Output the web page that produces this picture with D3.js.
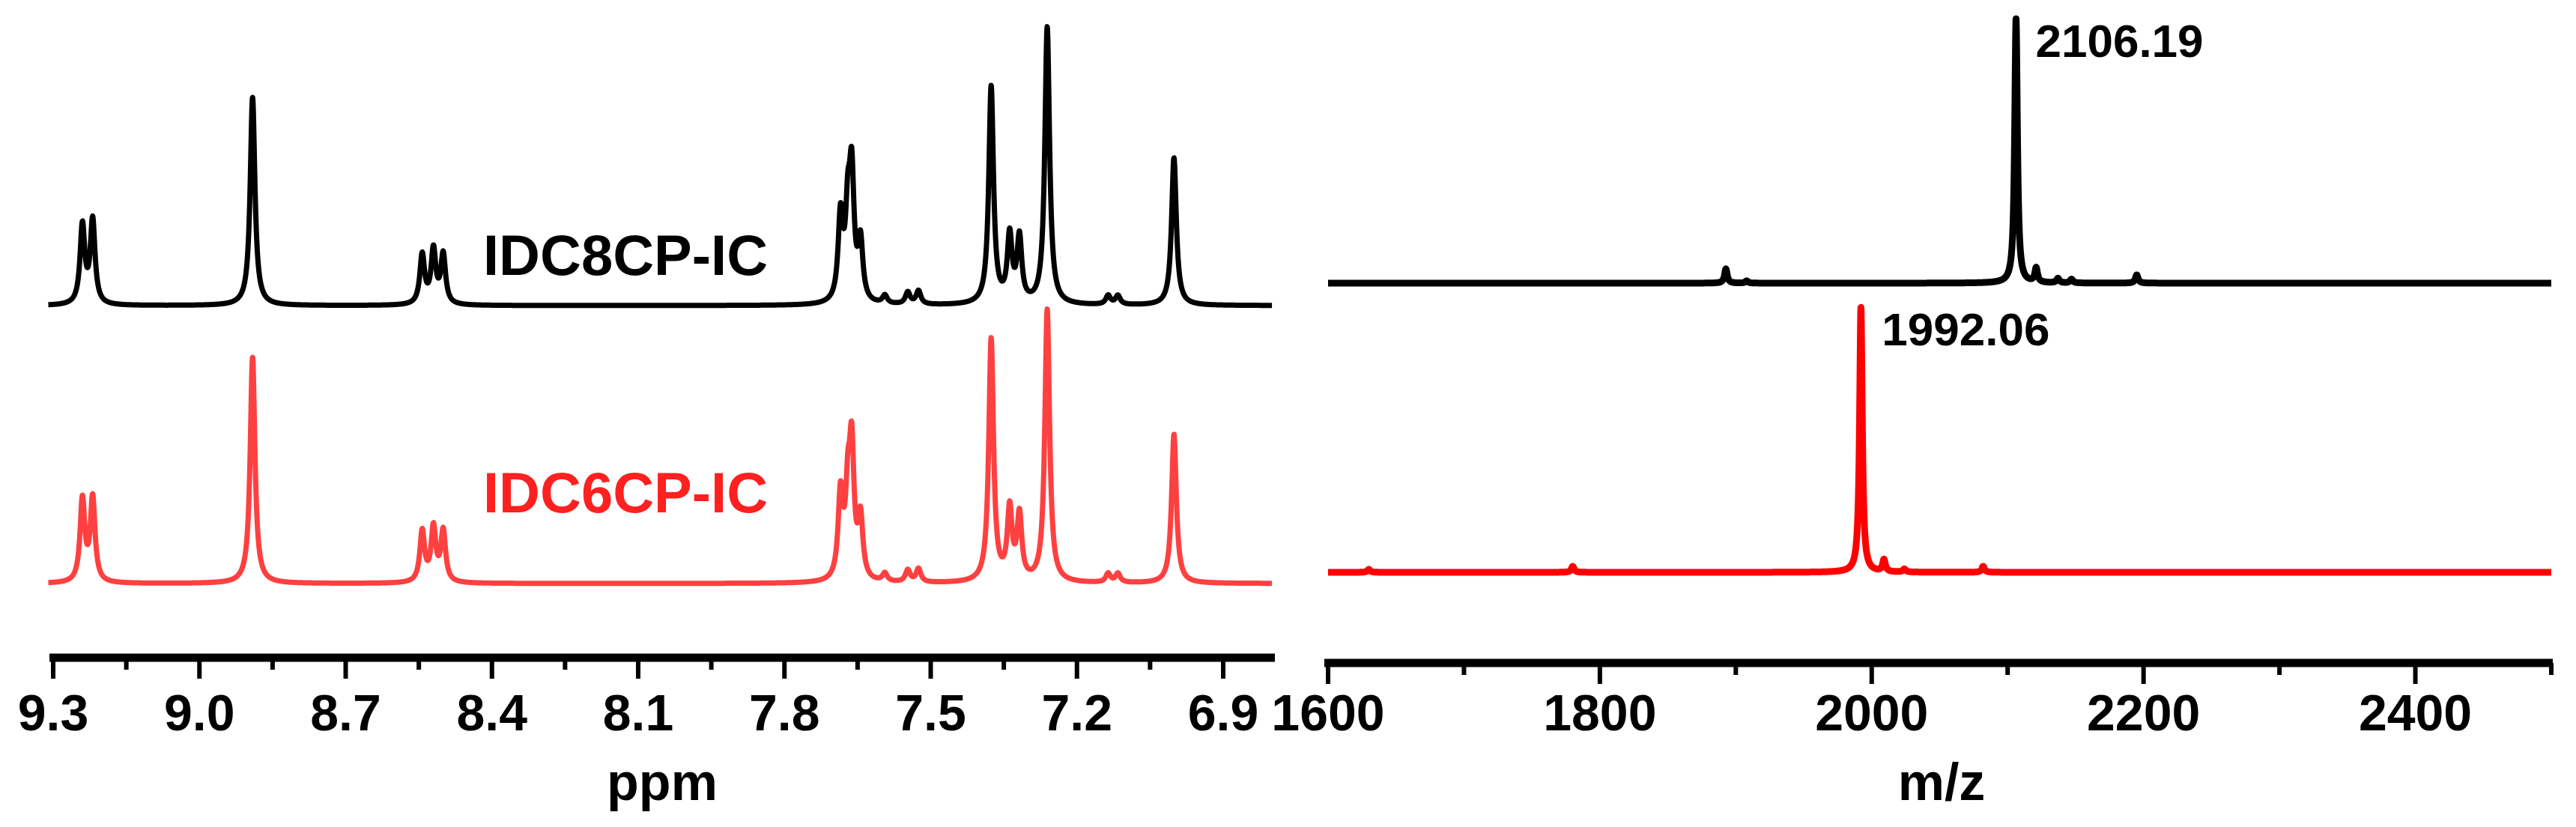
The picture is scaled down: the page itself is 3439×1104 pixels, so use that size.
<!DOCTYPE html>
<html><head><meta charset="utf-8">
<script src="https://cdn.jsdelivr.net/npm/d3@7"></script>
<style>body{margin:0;background:#fff}svg{display:block}</style>
</head><body>
<svg id="c" width="3439" height="1104"></svg>
<script>
// NMR peaks: [ppm, intensity]
const nmrTicks = [9.3, 9.0, 8.7, 8.4, 8.1, 7.8, 7.5, 7.2, 6.9];
const nmrBlackPeaks = [[9.240,105],[9.219,112],[8.891,278],[8.543,66],[8.520,72],[8.500,66],
  [7.685,112],[7.670,105],[7.662,160],[7.644,78],[7.594,11],[7.547,16],[7.525,18],
  [7.376,290],[7.338,88],[7.318,86],[7.261,370],[7.136,12],[7.116,12],[7.001,197]];
const nmrRedPeaks = [[9.240,110],[9.219,112],[8.891,302],[8.543,68],[8.520,72],[8.500,68],
  [7.685,112],[7.670,100],[7.662,166],[7.644,80],[7.594,11],[7.547,16],[7.525,18],
  [7.376,324],[7.338,94],[7.318,86],[7.261,364],[7.136,12],[7.116,12],[7.001,199]];
const msTicks = [1600, 1800, 2000, 2200, 2400];
const msBlackPeaks = [[1892.7,19],[1908,3],[2106.19,353],[2121,19],[2137,6],[2147,5],[2195,11]];
const msRedPeaks = [[1630,4],[1780,8],[1992.06,354],[2009,16],[2024,4],[2082,8]];
const labels = {nmrBlack:"IDC8CP-IC", nmrRed:"IDC6CP-IC", msBlack:"2106.19", msRed:"1992.06"};

const svg = d3.select("#c");
const narrow = "'Liberation Sans Narrow','Arial Narrow',sans-serif";
const bold = "'Liberation Sans',Arial,sans-serif";

const xN = d3.scaleLinear().domain([9.3, 6.9]).range([71, 1633]);
const xM = d3.scaleLinear().domain([1600, 2500]).range([1773, 3406]);
const yInt = d3.scaleLinear().domain([0, 400]).range([0, 400]);

function spectrum(peaks, dom, n, gamma) {
  const pts = [];
  const [a, b] = dom;
  for (let i = 0; i <= n; i++) {
    const x = a + (b - a) * i / n;
    let y = 0;
    for (const [p, h] of peaks) { const d = (x - p) / gamma; y += h / (1 + d * d); }
    pts.push([x, y]);
  }
  return pts;
}
function drawSpec(x, peaks, dom, n, gamma, base, color, w) {
  const data = spectrum(peaks, dom, n, gamma);
  const line = d3.line().x(d => x(d[0])).y(d => base - yInt(d[1]));
  svg.append("path").attr("d", line(data)).attr("fill", "none")
    .attr("stroke", color).attr("stroke-width", w).attr("stroke-linejoin", "round");
}
drawSpec(xN, nmrBlackPeaks, [9.31, 6.80], 6000, 0.0058, 408, "#000", 7);
drawSpec(xN, nmrRedPeaks, [9.31, 6.80], 6000, 0.0058, 779, "#ff4040", 7);
drawSpec(xM, msBlackPeaks, [1600, 2500], 9000, 1.2, 378, "#000", 9);
drawSpec(xM, msRedPeaks, [1600, 2500], 9000, 1.2, 764, "#ff0000", 9);

svg.append("text").attr("x", 645).attr("y", 367).attr("font-family", bold).attr("font-weight", "bold")
  .attr("font-size", 76).attr("fill", "#000").text(labels.nmrBlack);
svg.append("text").attr("x", 645).attr("y", 684).attr("font-family", bold).attr("font-weight", "bold")
  .attr("font-size", 76).attr("fill", "#ff2020").text(labels.nmrRed);
svg.append("text").attr("x", xM(2106.19) + 26).attr("y", 76).attr("font-family", bold).attr("font-weight", "bold")
  .attr("font-size", 62).attr("fill", "#000").text(labels.msBlack);
svg.append("text").attr("x", xM(1992.06) + 28).attr("y", 461).attr("font-family", bold).attr("font-weight", "bold")
  .attr("font-size", 62).attr("fill", "#000").text(labels.msRed);

function axis(x, ticks, y0, x0, x1, fmt, minorVals, title, tx, ty) {
  const g = svg.append("g");
  g.append("line").attr("x1", x0).attr("x2", x1).attr("y1", y0).attr("y2", y0)
    .attr("stroke", "#000").attr("stroke-width", 11);
  g.selectAll(".mj").data(ticks).join("line").attr("x1", d => x(d)).attr("x2", d => x(d))
    .attr("y1", y0).attr("y2", y0 + 28).attr("stroke", "#000").attr("stroke-width", 6);
  g.selectAll(".mn").data(minorVals).join("line").attr("x1", d => x(d)).attr("x2", d => x(d))
    .attr("y1", y0).attr("y2", y0 + 16).attr("stroke", "#000").attr("stroke-width", 6);
  g.selectAll(".tl").data(ticks).join("text").attr("x", d => x(d)).attr("y", 975)
    .attr("text-anchor", "middle").attr("font-family", narrow).attr("font-weight", "bold")
    .attr("font-size", 68).text(fmt);
  g.append("text").attr("x", tx).attr("y", ty).attr("text-anchor", "middle").attr("font-family", narrow)
    .attr("font-weight", "bold").attr("font-size", 70).text(title);
}
const nmrMinor = nmrTicks.slice(0, -1).map(d => d - 0.15);
axis(xN, nmrTicks, 878, 66, 1702, d => d.toFixed(1), nmrMinor, "ppm", 884, 1068);
const msMinor = [1700, 1900, 2100, 2300, 2500];
axis(xM, msTicks, 885, 1768, 3408, d => d, msMinor, "m/z", 2592, 1068);
</script>
</body></html>
